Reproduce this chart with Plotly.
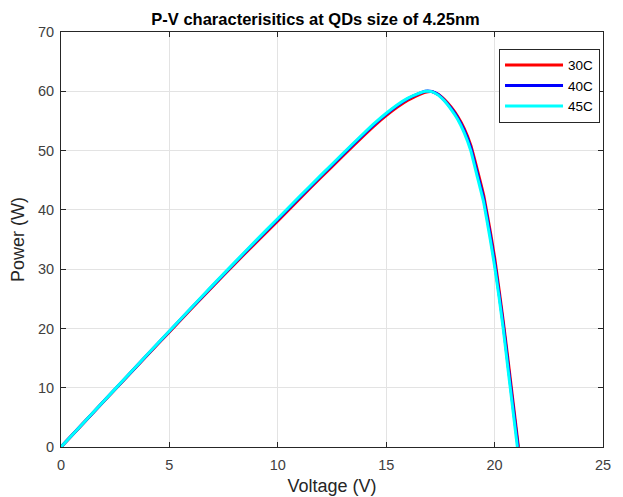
import plotly.graph_objects as go

title_text = "P-V characterisitics at QDs size of 4.25nm"
x_label = "Voltage (V)"
y_label = "Power (W)"
series_names = ["30C", "40C", "45C"]
series_colors = ["#ff0000", "#0000ff", "#00ffff"]

v_30 = [0, 1, 2, 3, 4, 5, 6, 7, 8, 9, 10, 11, 12, 13, 14, 14.5, 15, 15.5, 16, 16.5, 16.8, 17.1, 17.4, 17.7, 18, 18.3, 18.6, 18.9, 19.2, 19.5, 19.8, 20, 20.2, 20.4, 20.6, 20.8, 21.1]
p_30 = [0, 3.9, 7.8, 11.68, 15.55, 19.42, 23.28, 27.1, 30.85, 34.5, 38.15, 41.85, 45.5, 49.1, 52.65, 54.35, 55.9, 57.3, 58.5, 59.4, 59.85, 59.95, 59.5, 58.55, 57.3, 55.75, 53.7, 50.9, 46.8, 42.4, 36.4, 32.0, 26.7, 21.2, 15.3, 9.2, 0]

v_40 = [0, 1, 2, 3, 4, 5, 6, 7, 8, 9, 10, 11, 12, 13, 14, 14.5, 15, 15.5, 16, 16.5, 16.8, 17.1, 17.4, 17.7, 18, 18.3, 18.6, 18.9, 19.2, 19.5, 19.8, 20, 20.2, 20.4, 20.6, 20.8, 21.08]
p_40 = [0, 3.92, 7.83, 11.73, 15.63, 19.52, 23.39, 27.22, 31.0, 34.73, 38.4, 42.1, 45.75, 49.35, 52.9, 54.6, 56.15, 57.55, 58.75, 59.6, 60.0, 59.95, 59.45, 58.4, 57.1, 55.5, 53.35, 50.5, 46.2, 41.8, 35.7, 31.2, 26.0, 20.6, 14.5, 8.4, 0]

v_45 = [0, 1, 2, 3, 4, 5, 6, 7, 8, 9, 10, 11, 12, 13, 14, 14.5, 15, 15.5, 16, 16.5, 16.8, 17.1, 17.4, 17.7, 18, 18.3, 18.6, 18.9, 19.2, 19.5, 19.8, 20, 20.2, 20.4, 20.6, 20.8, 21.05]
p_45 = [0, 3.93, 7.85, 11.76, 15.67, 19.57, 23.45, 27.3, 31.1, 34.85, 38.55, 42.25, 45.9, 49.5, 53.05, 54.75, 56.3, 57.7, 58.85, 59.65, 60.0, 59.95, 59.35, 58.3, 56.9, 55.25, 53.0, 50.0, 45.6, 41.2, 35.0, 30.5, 25.4, 19.9, 13.7, 7.6, 0]

x_ticks = [0, 5, 10, 15, 20, 25]
y_ticks = [0, 10, 20, 30, 40, 50, 60, 70]

FONT = "Liberation Sans, Arial, Helvetica, sans-serif"

fig = go.Figure()
for name, color, vv, pp in [
    (series_names[0], series_colors[0], v_30, p_30),
    (series_names[1], series_colors[1], v_40, p_40),
    (series_names[2], series_colors[2], v_45, p_45),
]:
    fig.add_trace(go.Scatter(x=vv, y=pp, mode="lines", name=name,
                             line=dict(color=color, width=3, shape="spline", smoothing=0.3)))

axis_common = dict(
    showline=True, linecolor="#262626", linewidth=1, mirror="allticks",
    ticks="inside", ticklen=5, tickcolor="#262626",
    showgrid=True, gridcolor="#e3e3e3", gridwidth=1, zeroline=False,
    tickfont=dict(family=FONT, size=14.5, color="#404040"),
    automargin=False,
)

fig.update_layout(
    width=615, height=489,
    paper_bgcolor="white", plot_bgcolor="white",
    margin=dict(l=53, r=20, t=24, b=50),
    title=dict(text="<b>" + title_text + "</b>", x=0.5, xanchor="center", y=0.977, yanchor="middle",
               font=dict(family=FONT, size=16.5, color="#000000")),
    xaxis=dict(range=[0, 25], tickvals=x_ticks, ticklabelstandoff=5,
               title=dict(text=x_label, standoff=6, font=dict(family=FONT, size=18, color="#262626")),
               **axis_common),
    yaxis=dict(range=[0, 70], tickvals=y_ticks, ticklabelstandoff=3,
               title=dict(text=y_label, standoff=8, font=dict(family=FONT, size=18, color="#262626")),
               **axis_common),
    legend=dict(x=0.9945, xanchor="right", y=0.96, yanchor="top",
                bgcolor="white", bordercolor="#262626", borderwidth=1,
                font=dict(family=FONT, size=13.5, color="#000000"),
                itemwidth=58, tracegroupgap=0),
    showlegend=True,
)

fig.write_html("out.html")
